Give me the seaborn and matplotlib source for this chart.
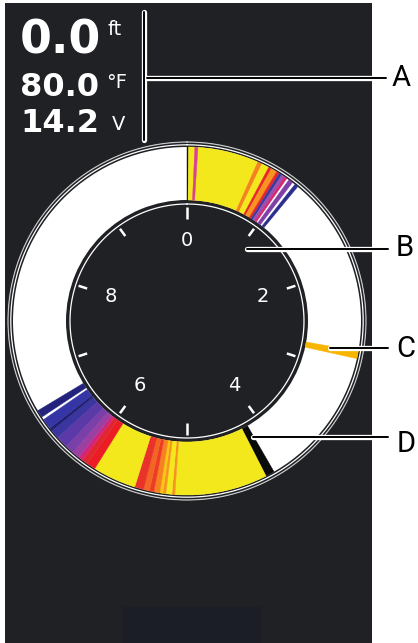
import numpy as np
import matplotlib
matplotlib.use("Agg")
import matplotlib.pyplot as plt
import matplotlib.patheffects as pe
from matplotlib.patches import Rectangle
import seaborn as sns

# top-left readouts
readouts = ["0.0", "80.0", "14.2"]
units = ["ft", "°F", "V"]

# dial (10 divisions, every other one numbered)
dial_labels = ["0", "2", "4", "6", "8"]
n_div = 10

# flasher echoes, degrees clockwise from the top
echo_start = [0.0, 0.5, 2.6, 24.0, 25.5, 28.0, 29.0, 31.0, 32.0, 33.0, 34.2, 35.8, 38.3,
              100.0,
              150.0, 153.0, 184.0, 185.0, 187.0, 188.0, 189.0, 191.0, 192.5, 194.5, 197.5,
              212.0, 215.0, 217.0, 218.5, 221.0, 224.0, 228.0, 231.0, 232.0, 236.5]
echo_end = [0.5, 24.0, 3.6, 25.5, 28.0, 29.0, 31.0, 32.0, 33.0, 34.2, 35.0, 37.3, 39.5,
            102.5,
            153.0, 184.0, 185.0, 187.0, 188.0, 189.0, 191.0, 192.5, 194.5, 197.5, 212.0,
            215.0, 217.0, 218.5, 221.0, 224.0, 228.0, 231.0, 232.0, 235.5, 239.0]
echo_color = ["#111111", "#f2e81c", "#d9409a", "#f5821f", "#f2e81c", "#e8262a", "#f7931e",
              "#e8262a", "#3b3a9e", "#9b4fb0", "#d6246e", "#7e3fa6", "#2b2d8f",
              "#f7b500",
              "#0a0a0a", "#f2e81c", "#f7941d", "#f2e81c", "#f7941d", "#f9c80e", "#f58220",
              "#ed3b24", "#f26522", "#e9322a", "#f2e81c",
              "#ec1c24", "#e0262f", "#d4237a", "#9b3fa0", "#7a3fa8", "#5b3aa8", "#3b35a0",
              "#1f1f6e", "#3535a5", "#23237e"]

callouts = ["A", "B", "C", "D"]

sns.set_theme(style="white")
plt.rcParams['font.family'] = ['DejaVu Sans']

DARK = "#1f2125"
W, H = 418, 643
fig = plt.figure(figsize=(W / 100, H / 100), dpi=100)
fig.patch.set_facecolor("white")

# background in pixel units
bg = fig.add_axes([0, 0, 1, 1])
bg.set_xlim(0, W)
bg.set_ylim(H, 0)
bg.axis("off")
bg.add_patch(Rectangle((5, 3), 367, 640, color=DARK, lw=0))
bg.add_patch(Rectangle((122, 607), 140, 36, color="#1b1e27", lw=0))

# the flasher dial
ax = fig.add_axes([7 / W, (H - 501) / H, 360 / W, 360 / H], projection="polar")
ax.set_theta_zero_location("N")
ax.set_theta_direction(-1)
ax.set_ylim(0, 180)
ax.axis("off")

r_in, r_out = 121, 174
ax.bar(0, r_out - r_in, width=2 * np.pi, bottom=r_in, align="edge", color="white", lw=0)
st = np.array(echo_start)
en = np.array(echo_end)
ax.bar(np.deg2rad(st), r_out - r_in, width=np.deg2rad(en - st), bottom=r_in,
       align="edge", color=echo_color, edgecolor=echo_color, lw=0.3)

th = np.linspace(0, 2 * np.pi, 500)
ax.plot(th, np.full_like(th, 117), color="white", lw=0.9)
ax.plot(th, np.full_like(th, 176.2), color="white", lw=0.9)
ax.plot(th, np.full_like(th, 179), color="#c8c8c8", lw=0.9)

for k in range(n_div):
    a = np.deg2rad(360 / n_div * k)
    lo = 102 if k % 5 == 0 else 105
    ax.plot([a, a], [lo, 114], color="white", lw=1.8, solid_capstyle="butt")
for i, lab in enumerate(dial_labels):
    ax.text(np.deg2rad(360 / len(dial_labels) * i), 80, lab, ha="center", va="center",
            color="white", fontsize=14)

# overlay: readouts and callouts
fg = fig.add_axes([0, 0, 1, 1])
fg.set_xlim(0, W)
fg.set_ylim(H, 0)
fg.axis("off")
fg.patch.set_alpha(0)

big = [33, 23, 23]
base = [53, 96, 132]
ux = [108, 106, 112]
ub = [35, 88, 130]
for txt, u, fs, b, x, yb in zip(readouts, units, big, base, ux, ub):
    fg.text(20, b, txt, fontsize=fs, weight="bold", color="white", va="baseline", ha="left")
    fg.text(x, yb, u, fontsize=14, color="white", va="baseline", ha="left")

halo = [pe.withStroke(linewidth=3.8, foreground="white")]
lines = [([144, 144], [12, 140]),
         ([147, 386], [78, 78]),
         ([247, 388], [249, 249]),
         ([330, 388], [348, 348]),
         ([253, 388], [437, 437])]
for xs, ys in lines:
    fg.plot(xs, ys, color="black", lw=1.4, solid_capstyle="round", path_effects=halo)

lab_xy = [(401, 78), (405, 248), (406, 349), (406, 444)]
for lab, (x, y) in zip(callouts, lab_xy):
    fg.text(x, y, lab, ha="center", va="center", fontsize=21, family="Roboto", color="black")

fig.savefig("out.png", dpi=100, facecolor=fig.get_facecolor())
